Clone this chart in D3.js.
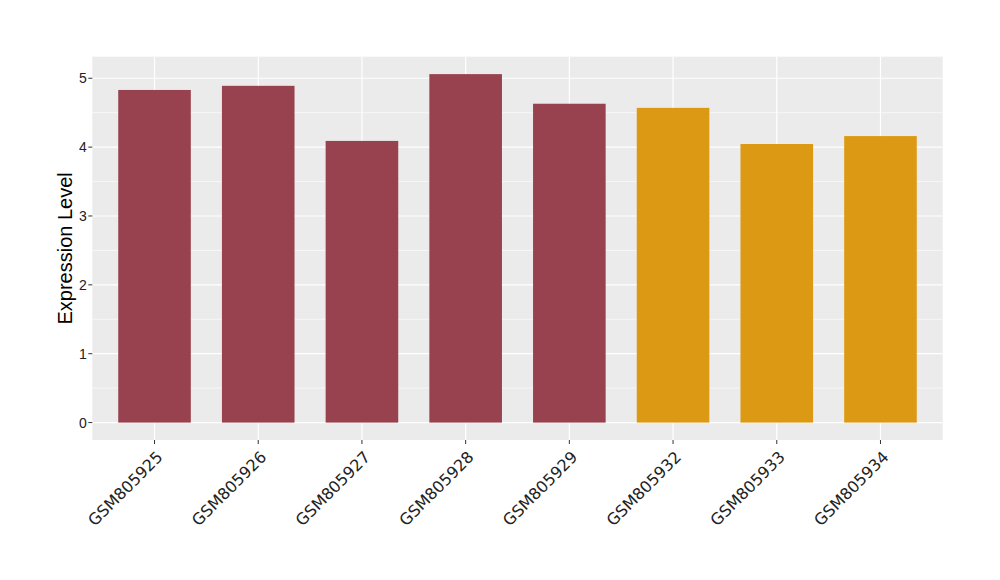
<!DOCTYPE html>
<html><head><meta charset="utf-8">
<script src="https://cdn.jsdelivr.net/npm/d3@7"></script>
<style>body{margin:0;background:#fff}svg{display:block}</style>
</head><body><svg id="c" width="1000" height="580"></svg>
<script>
const samples = ["GSM805925","GSM805926","GSM805927","GSM805928","GSM805929","GSM805932","GSM805933","GSM805934"];
const values = [4.83,4.89,4.09,5.06,4.63,4.57,4.045,4.16];
const groups = ["A","A","A","A","A","B","B","B"];
const yTicks = [0,1,2,3,4,5];
const yMinor = [0.5,1.5,2.5,3.5,4.5];
const groupColors = {A:"#99424F", B:"#DC9913"};

const svg = d3.select("#c");
const L=92.3, R=942.7, T=56.7, B=440;
const SANS = "'Liberation Sans',Arial,sans-serif";
// ggplot: expand 0.6 units on each side of 8 categories
const x = d3.scalePoint().domain(samples).range([0, samples.length-1]);
const step = (R-L)/(samples.length+0.2);
const xc = s => L + step*(0.6 + x(s));
const ymax = d3.max(values);
const y = d3.scaleLinear().domain([-ymax*0.05, ymax*1.05]).range([B,T]);

svg.append("rect").attr("x",L).attr("y",T).attr("width",R-L).attr("height",B-T).attr("fill","#EBEBEB");
const g = svg.append("g");
g.selectAll(".ymin").data(yMinor).join("line").attr("x1",L).attr("x2",R)
 .attr("y1",d=>y(d)).attr("y2",d=>y(d)).attr("stroke","#fff").attr("stroke-width",0.6);
g.selectAll(".ymaj").data(yTicks).join("line").attr("x1",L).attr("x2",R)
 .attr("y1",d=>y(d)).attr("y2",d=>y(d)).attr("stroke","#fff").attr("stroke-width",1.2);
g.selectAll(".xmaj").data(samples).join("line").attr("y1",T).attr("y2",B)
 .attr("x1",d=>xc(d)).attr("x2",d=>xc(d)).attr("stroke","#fff").attr("stroke-width",1.2);

const bw = step*0.7;
svg.selectAll(".bar").data(samples).join("rect")
 .attr("x",d=>xc(d)-bw/2).attr("width",bw)
 .attr("y",(d,i)=>y(values[i])).attr("height",(d,i)=>y(0)-y(values[i]))
 .attr("fill",(d,i)=>groupColors[groups[i]]);

// y axis
svg.selectAll(".yt").data(yTicks).join("line").attr("x1",L-4).attr("x2",L)
 .attr("y1",d=>y(d)).attr("y2",d=>y(d)).attr("stroke","#333").attr("stroke-width",1);
svg.selectAll(".yl").data(yTicks).join("text").attr("x",L-5.5).attr("y",d=>y(d))
 .attr("dy","0.36em").attr("text-anchor","end").style("font-size","14px")
 .style("font-family",SANS).attr("fill","#222").text(d=>d);
// x axis
svg.selectAll(".xt").data(samples).join("line").attr("x1",d=>xc(d)).attr("x2",d=>xc(d))
 .attr("y1",B).attr("y2",B+4).attr("stroke","#333").attr("stroke-width",1);
svg.selectAll(".xl").data(samples).join("text")
 .attr("transform",d=>`translate(${xc(d)+1},${B+10}) rotate(-45)`)
 .attr("text-anchor","end").attr("dy","0.72em").style("font-size","16px")
 .style("font-family","'DejaVu Sans',sans-serif").attr("fill","#222").text(d=>d);

svg.append("text").attr("transform",`translate(72,${(T+B)/2}) rotate(-90)`)
 .attr("text-anchor","middle").style("font-size","20px").style("font-family",SANS)
 .attr("fill","#000").text("Expression Level");
</script></body></html>
